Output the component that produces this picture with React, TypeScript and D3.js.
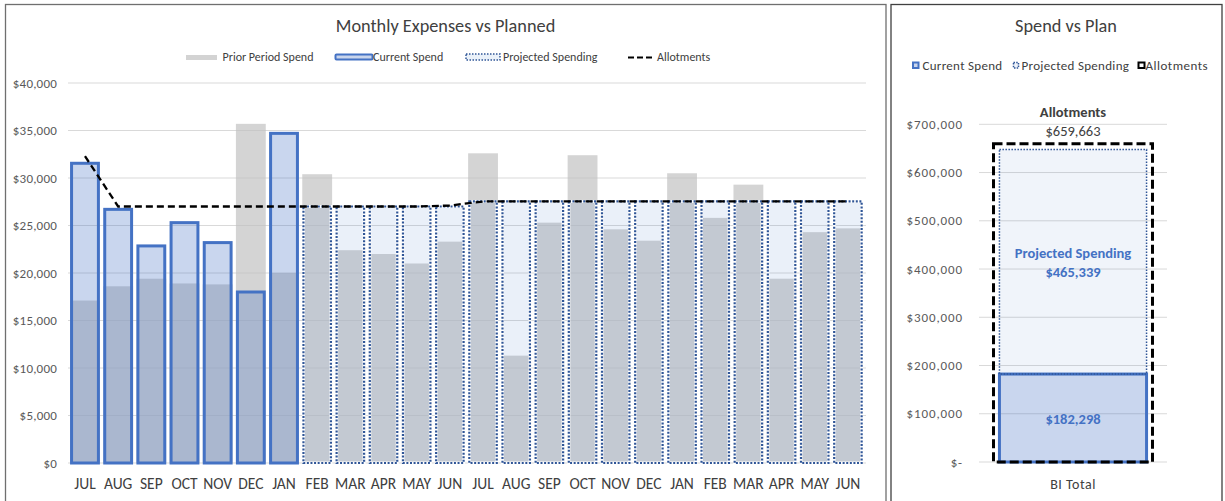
import React from "react";
import * as d3 from "d3";

const months = ["JUL","AUG","SEP","OCT","NOV","DEC","JAN","FEB","MAR","APR","MAY","JUN","JUL","AUG","SEP","OCT","NOV","DEC","JAN","FEB","MAR","APR","MAY","JUN"];
const priorSpend = [17100,18600,19400,18900,18800,35700,20000,30400,22400,22000,21000,23300,32600,11300,25300,32400,24600,23400,30500,25800,29300,19400,24300,24700];
const currentSpend = [31550,26700,22850,25300,23200,18000,34700,null,null,null,null,null,null,null,null,null,null,null,null,null,null,null,null,null];
const projectedSpend = [null,null,null,null,null,null,null,27000,27000,27000,27000,27000,27530,27530,27530,27530,27530,27530,27530,27530,27530,27530,27530,27530];
const allotments = [32300,27000,27000,27000,27000,27000,27000,27000,27000,27000,27000,27100,27530,27530,27530,27530,27530,27530,27530,27530,27530,27530,27530,27530];
const leftTicks = [0,5000,10000,15000,20000,25000,30000,35000,40000];

const totalCategory = ["BI Total"];
const totalCurrent = [182298];
const totalProjected = [465339];
const totalAllotments = [659663];
const rightTicks = [0,100000,200000,300000,400000,500000,600000,700000];

const FONT = "Calibri, Carlito, Lato, 'Noto Sans', sans-serif";
const BLUE = "#4472C4";
const DARKBLUE = "#2F5597";
const TXT = "#404040";
const AX = "#595959";

export default function App() {
  const x = d3.scaleBand<number>().domain(months.map((_, i) => i)).range([68.4, 864.5]).paddingInner(0.1).paddingOuter(0.05);
  const y = d3.scaleLinear().domain([0, 40000]).range([463, 83]);
  const fmtL = (v: number) => "$" + d3.format(",")(v);

  const xr = d3.scaleBand<string>().domain(totalCategory).range([979, 1167]).padding(0.122);
  const xr2 = d3.scaleBand<string>().domain(totalCategory).range([979, 1167]).padding(0.0836);
  const yr = d3.scaleLinear().domain([0, 700000]).range([462, 124.3]);
  const fmtR = (v: number) => (v === 0 ? "$-" : "$" + d3.format(",")(v));

  const line = d3.line<number>().x((_, i) => x(i)! + x.bandwidth() / 2).y((d) => y(d));

  return (
    <svg width={1225} height={501} style={{ position: "absolute", left: 0, top: 0, background: "#fff" }} fontFamily={FONT}>
      <rect x={0} y={0} width={1225} height={501} fill="#fff" />
      {/* Left frame */}
      <rect x={5.5} y={4.5} width={880.5} height={520} fill="#fff" stroke="#6f6f6f" strokeWidth={1.3} />
      <text x={445.5} y={32} textAnchor="middle" fontSize={18.3} fill={TXT}>Monthly Expenses vs Planned</text>

      {/* Left legend */}
      <rect x={186} y={55} width={31} height={5} fill="#d3d3d3" />
      <text x={222.5} y={61} fontSize={12} fill={TXT}>Prior Period Spend</text>
      <rect x={335.5} y={54.5} width={37} height={5} fill="#c9d5ec" stroke={BLUE} strokeWidth={2} rx={1} />
      <text x={373} y={61} fontSize={12} fill={TXT}>Current Spend</text>
      <rect x={466} y={54} width={34} height={6} fill="#eaf1f9" stroke={DARKBLUE} strokeWidth={1.5} strokeDasharray="1.5 1.5" />
      <text x={503} y={61} fontSize={12} fill={TXT}>Projected Spending</text>
      <line x1={628} x2={652} y1={57.5} y2={57.5} stroke="#000" strokeWidth={2.2} strokeDasharray="6 3" />
      <text x={657} y={61} fontSize={12} fill={TXT}>Allotments</text>

      {/* gridlines */}
      {leftTicks.map((t) => (
        <line key={t} x1={68} x2={866} y1={y(t)} y2={y(t)} stroke="#d9d9d9" strokeWidth={1} />
      ))}
      {leftTicks.map((t) => (
        <text key={"l" + t} x={57} y={y(t)} dy="0.35em" textAnchor="end" fontSize={13} letterSpacing={0.2} fill={AX}>{fmtL(t)}</text>
      ))}

      {/* prior spend */}
      {priorSpend.map((v, i) => (
        <rect key={"p" + i} x={x(i)} y={y(v)} width={x.bandwidth()} height={y(0) - y(v)} fill="#bfbfbf" fillOpacity={0.67} />
      ))}
      {/* current spend */}
      {currentSpend.map((v, i) =>
        v == null ? null : (
          <rect key={"c" + i} x={x(i)! + 1.5} y={y(v)} width={x.bandwidth() - 3} height={y(0) - y(v)} fill={BLUE} fillOpacity={0.29} stroke={BLUE} strokeWidth={3} />
        )
      )}
      {/* projected spend */}
      {projectedSpend.map((v, i) =>
        v == null ? null : (
          <g key={"pr" + i}>
            <rect x={x(i)! + 1.2} y={y(v)} width={x.bandwidth() - 2.4} height={y(0) - y(v)} fill={BLUE} fillOpacity={0.11} stroke="#fff" strokeWidth={3} />
            <rect x={x(i)! + 1.2} y={y(v)} width={x.bandwidth() - 2.4} height={y(0) - y(v)} fill="none" stroke={DARKBLUE} strokeWidth={2.2} strokeDasharray="2 1.6" />
          </g>
        )
      )}
      {/* allotments */}
      <path d={line(allotments) || ""} fill="none" stroke="#000" strokeWidth={2.3} strokeDasharray="7 4" />

      {/* x labels */}
      {months.map((m, i) => (
        <text key={"x" + i} x={x(i)! + x.bandwidth() / 2} y={489} textAnchor="middle" fontSize={15.5} fill={TXT}>{m}</text>
      ))}

      {/* Right frame */}
      <rect x={891} y={4.5} width={331} height={520} fill="#fff" stroke="#404040" strokeWidth={1.3} />
      <text x={1066} y={32} textAnchor="middle" fontSize={18.3} fill={TXT}>Spend vs Plan</text>

      {/* Right legend */}
      <rect x={913} y={62.5} width={5.5} height={5.5} fill="#c9d5ec" stroke={BLUE} strokeWidth={2} />
      <text x={922.5} y={70} fontSize={13} letterSpacing={0.3} fill={TXT}>Current Spend</text>
      <rect x={1013.5} y={62.5} width={5} height={5.5} fill="#eef3fa" stroke={DARKBLUE} strokeWidth={1.5} strokeDasharray="1.5 1.2" />
      <text x={1021.5} y={70} fontSize={13} letterSpacing={0.3} fill={TXT}>Projected Spending</text>
      <rect x={1138.5} y={62.5} width={6} height={5.5} fill="#fff" stroke="#000" strokeWidth={2} />
      <text x={1145.5} y={70} fontSize={13} letterSpacing={0.5} fill={TXT}>Allotments</text>

      {rightTicks.map((t) => (
        <line key={"rg" + t} x1={979} x2={1167} y1={yr(t)} y2={yr(t)} stroke="#d9d9d9" strokeWidth={1} />
      ))}
      {rightTicks.map((t) => (
        <text key={"rl" + t} x={963} y={yr(t)} dy="0.35em" textAnchor="end" fontSize={13} letterSpacing={0.9} fill={AX}>{fmtR(t)}</text>
      ))}

      {totalCategory.map((c, i) => {
        const cur = totalCurrent[i];
        const proj = totalProjected[i];
        const allot = totalAllotments[i];
        const bx = xr(c)!;
        const bw = xr.bandwidth();
        const ax = xr2(c)!;
        const aw = xr2.bandwidth();
        const cx = bx + bw / 2;
        return (
          <g key={c}>
            <rect x={bx} y={yr(cur)} width={bw} height={yr(0) - yr(cur)} fill={BLUE} fillOpacity={0.29} stroke={BLUE} strokeWidth={3} />
            <rect x={bx} y={yr(cur + proj)} width={bw} height={yr(cur) - yr(cur + proj)} fill={BLUE} fillOpacity={0.08} stroke={DARKBLUE} strokeWidth={1.5} strokeDasharray="1.5 1.5" />
            <rect x={ax} y={yr(allot)} width={aw} height={yr(0) - yr(allot)} fill="none" stroke="#000" strokeWidth={3} strokeDasharray="9 4" />
            <text x={cx} y={117} textAnchor="middle" fontSize={14.5} fontWeight="bold" fill={TXT}>Allotments</text>
            <text x={cx} y={136} textAnchor="middle" fontSize={14.5} fill={TXT}>{"$" + d3.format(",")(allot)}</text>
            <text x={cx} y={(yr(cur) + yr(cur + proj)) / 2 - 4} textAnchor="middle" fontSize={14.5} fontWeight="bold" fill={BLUE}>Projected Spending</text>
            <text x={cx} y={(yr(cur) + yr(cur + proj)) / 2 + 15} textAnchor="middle" fontSize={14.5} fontWeight="bold" fill={BLUE}>{"$" + d3.format(",")(proj)}</text>
            <text x={cx} y={(yr(0) + yr(cur)) / 2 + 6} textAnchor="middle" fontSize={14.5} fontWeight="bold" fill={BLUE}>{"$" + d3.format(",")(cur)}</text>
            <text x={cx} y={489} textAnchor="middle" fontSize={14} letterSpacing={0.5} fill={TXT}>{c}</text>
          </g>
        );
      })}
    </svg>
  );
}
